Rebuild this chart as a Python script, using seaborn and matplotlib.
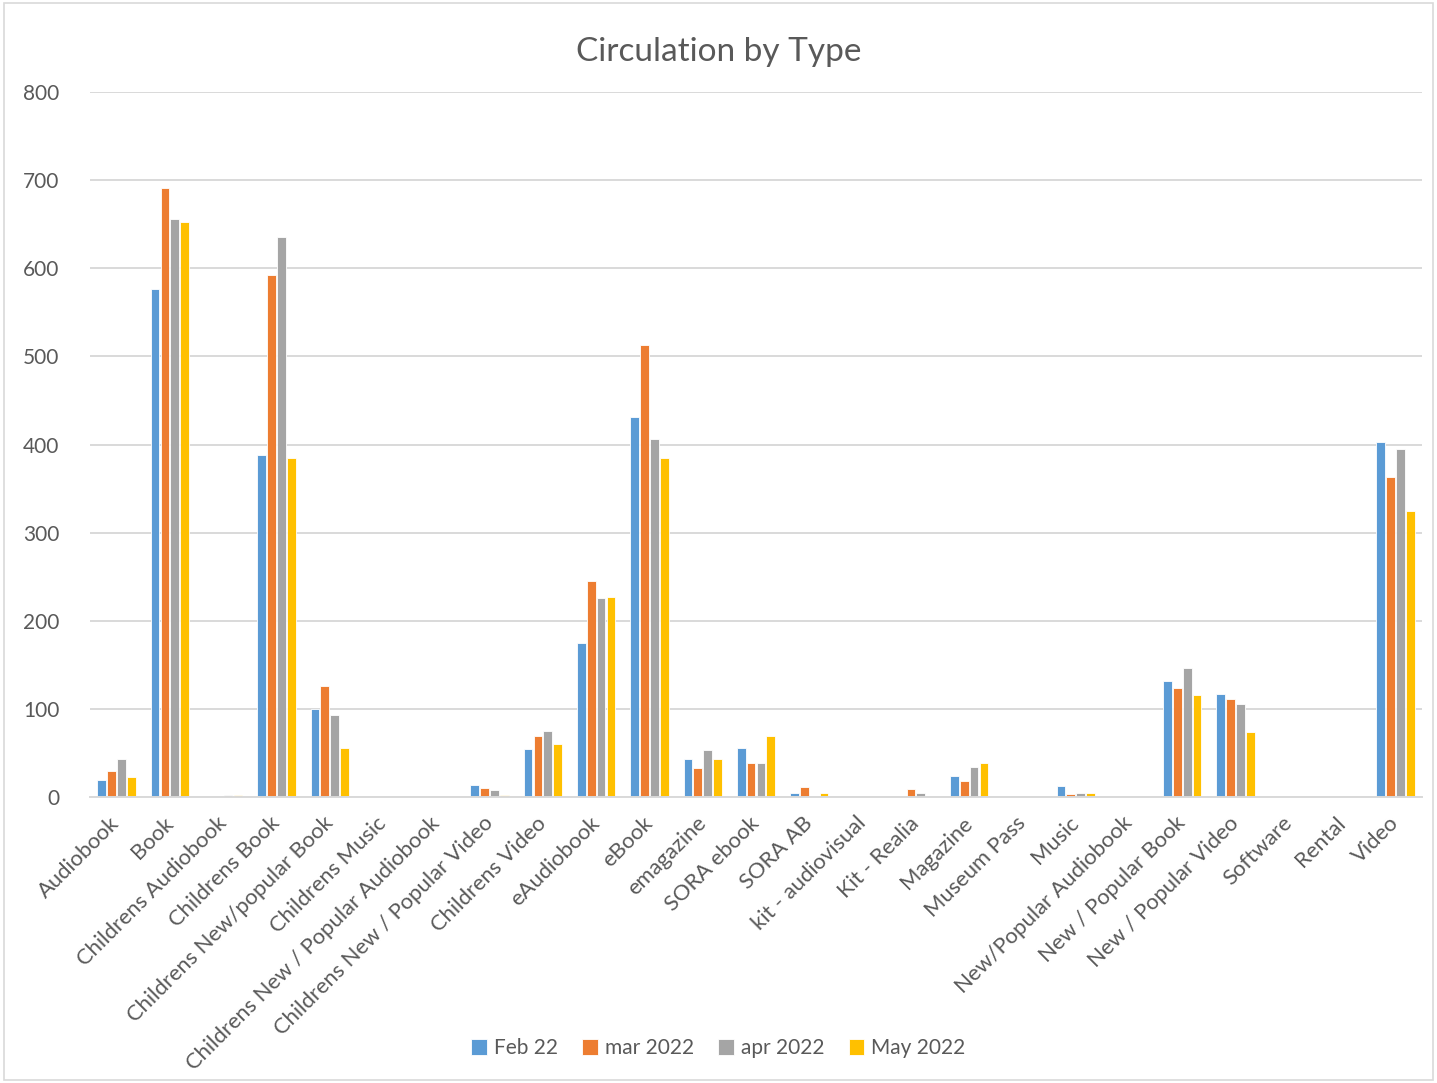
import matplotlib
matplotlib.use("Agg")
import matplotlib.pyplot as plt
import seaborn as sns
import pandas as pd
from matplotlib.patches import Rectangle

categories = ["Audiobook", "Book", "Childrens Audiobook", "Childrens Book",
              "Childrens New/popular Book", "Childrens Music",
              "Childrens New / Popular Audiobook", "Childrens New / Popular Video",
              "Childrens Video", "eAudiobook", "eBook", "emagazine", "SORA ebook",
              "SORA AB", "kit - audiovisual", "Kit - Realia", "Magazine",
              "Museum Pass", "Music", "New/Popular Audiobook", "New / Popular Book",
              "New / Popular Video", "Software", "Rental", "Video"]
months = ["Feb 22", "mar 2022", "apr 2022", "May 2022"]

feb = [19, 577, 0, 388, 100, 0, 0, 14, 55, 175, 431, 43, 56, 5, 0, 1, 24, 0, 12, 0, 132, 117, 0, 0, 403]
mar = [30, 691, 1, 592, 126, 0, 0, 10, 69, 245, 513, 33, 38, 11, 0, 9, 18, 0, 3, 0, 124, 111, 0, 0, 363]
apr = [43, 656, 2, 635, 93, 0, 0, 8, 75, 226, 406, 53, 38, 1, 0, 4, 34, 1, 5, 0, 146, 106, 0, 0, 395]
may = [23, 653, 2, 385, 56, 1, 0, 2, 60, 227, 385, 43, 69, 5, 0, 1, 38, 1, 4, 0, 116, 74, 0, 0, 325]

colors = ["#5B9BD5", "#ED7D31", "#A5A5A5", "#FFC000"]

rows = []
for m, vals in zip(months, [feb, mar, apr, may]):
    for c, v in zip(categories, vals):
        rows.append({"type": c, "month": m, "count": v})
df = pd.DataFrame(rows)

sns.set_style("white")
plt.rcParams["font.family"] = ["Lato", "DejaVu Sans"]

fig = plt.figure(figsize=(14.37, 10.83), dpi=100)
ax = fig.add_axes([0.0626, 0.2641, 0.9270, 0.6509])

sns.barplot(data=df, x="type", y="count", hue="month", order=categories,
            hue_order=months, palette=colors, saturation=1, width=0.74, gap=0.12,
            edgecolor="white", linewidth=0.6, ax=ax, legend=True)

ax.set_ylim(0, 800)
ax.set_yticks(range(0, 801, 100))
ax.set_xlim(-0.5, len(categories) - 0.5)
ax.yaxis.grid(True, color="#D9D9D9", linewidth=1.4)
ax.set_axisbelow(True)
for s in ["top", "right", "left"]:
    ax.spines[s].set_visible(False)
ax.spines["bottom"].set_color("#D9D9D9")
ax.spines["bottom"].set_linewidth(1.4)
ax.tick_params(axis="y", length=0, colors="#595959", labelsize=15, pad=22)
ax.tick_params(axis="x", length=0, colors="#595959", labelsize=15.8)
ax.set_xlabel("")
ax.set_ylabel("")
plt.setp(ax.get_xticklabels(), rotation=45, ha="right", va="center",
         rotation_mode="anchor")
for lab in ax.get_xticklabels():
    lab.set_y(-0.026)

fig.suptitle("Circulation by Type", fontsize=24, color="#595959", x=0.5, y=0.966)

ax.get_legend().remove()
handles, labels = ax.get_legend_handles_labels()
fig.legend(handles[:4], labels[:4], loc="center", bbox_to_anchor=(0.5, 0.032),
           ncol=4, frameon=False, fontsize=15, handlelength=0.75, handleheight=0.75,
           handletextpad=0.35, columnspacing=1.15, labelcolor="#595959")

fig.patches.append(Rectangle((0.003, 0.003), 0.994, 0.994, transform=fig.transFigure,
                             fill=False, edgecolor="#D9D9D9", linewidth=1.2))

fig.savefig("out.png", dpi=100)
